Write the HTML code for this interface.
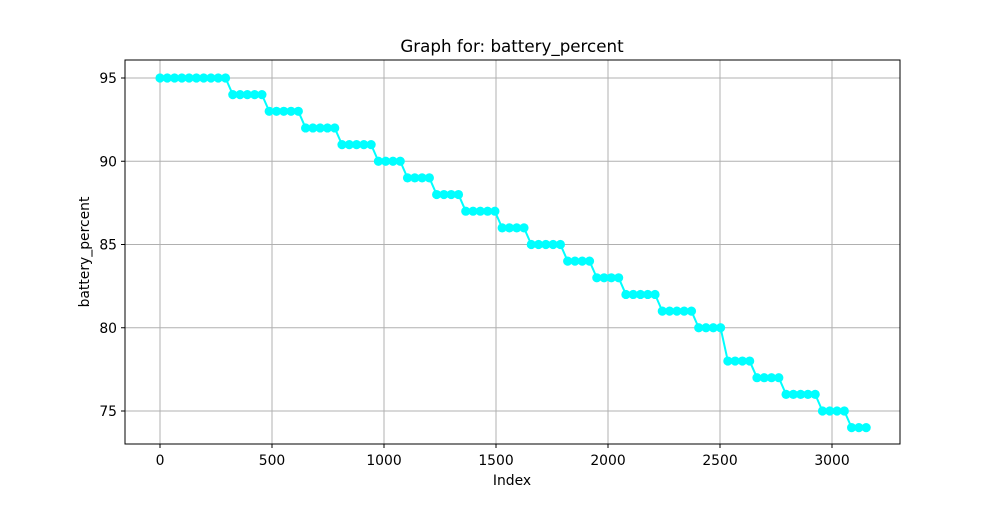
<!DOCTYPE html>
<html><head><meta charset="utf-8"><style>
body{margin:0;background:#fff;font-family:"Liberation Sans","DejaVu Sans",sans-serif}
svg text{font-family:"DejaVu Sans","Liberation Sans",sans-serif;fill:#000}
</style></head><body>
<svg id="chart" width="1000" height="500" xmlns="http://www.w3.org/2000/svg">
<rect width="1000" height="500" fill="#fff"/>
<g id="grid"></g><g id="series"></g>
<rect x="125" y="60" width="775" height="384" fill="none" stroke="#000" stroke-width="1"/>
<g id="ticks"></g>
<text x="512" y="52" text-anchor="middle" font-size="16.7">Graph for: battery_percent</text>
<text x="512" y="485" text-anchor="middle" font-size="13.9">Index</text>
<text transform="translate(89,252) rotate(-90)" text-anchor="middle" font-size="13.9">battery_percent</text>
</svg>
<script>
const levels=[95,94,93,92,91,90,89,88,87,86,85,84,83,82,81,80,78,77,76,75,74];
const counts=[10,5,5,5,5,4,4,4,5,4,5,4,4,5,5,4,4,4,5,4,3];
const indexStep=32.5;
const xTicks=[0,500,1000,1500,2000,2500,3000];
const yTicks=[75,80,85,90,95];
const NS="http://www.w3.org/2000/svg";
const xS=v=>160+v*0.224;
const yS=v=>78+(95-v)*16.65;
const g=document.getElementById('grid'),t=document.getElementById('ticks'),s=document.getElementById('series');
function mk(tag,attrs,parent){const e=document.createElementNS(NS,tag);for(const k in attrs)e.setAttribute(k,attrs[k]);parent.appendChild(e);return e;}
xTicks.forEach(v=>{const x=xS(v);
 const l=mk('line',{x1:x,x2:x,y1:60,y2:444,stroke:'#b0b0b0','stroke-width':1},g);
 
 
 const tk=mk('line',{x1:x,x2:x,y1:444,y2:448,stroke:'#000'},t);
 
 
 const tx=mk('text',{x:x,y:465,'text-anchor':'middle','font-size':13.9},t);tx.textContent=v;
 
 });
yTicks.forEach(v=>{const y=yS(v);
 const l=mk('line',{x1:125,x2:900,y1:y,y2:y,stroke:'#b0b0b0','stroke-width':1},g);
 
 
 const tk=mk('line',{x1:121,x2:125,y1:y,y2:y,stroke:'#000'},t);
 
 
 const tx=mk('text',{x:117,y:y+5,'text-anchor':'end','font-size':13.9},t);tx.textContent=v;
 
 });
const vals=[];levels.forEach((lv,i)=>{for(let k=0;k<counts[i];k++)vals.push(lv);});
const pts=vals.map((v,i)=>[xS(i*indexStep),yS(v)]);
const line=mk('polyline',{points:pts.map(p=>p.join(',')).join(' '),fill:'none',stroke:'#00ffff','stroke-width':2},s);


pts.forEach(p=>{const c=mk('circle',{cx:p[0],cy:p[1],r:4.6,fill:'#00ffff'},s);
 
 });
</script>
</body></html>
